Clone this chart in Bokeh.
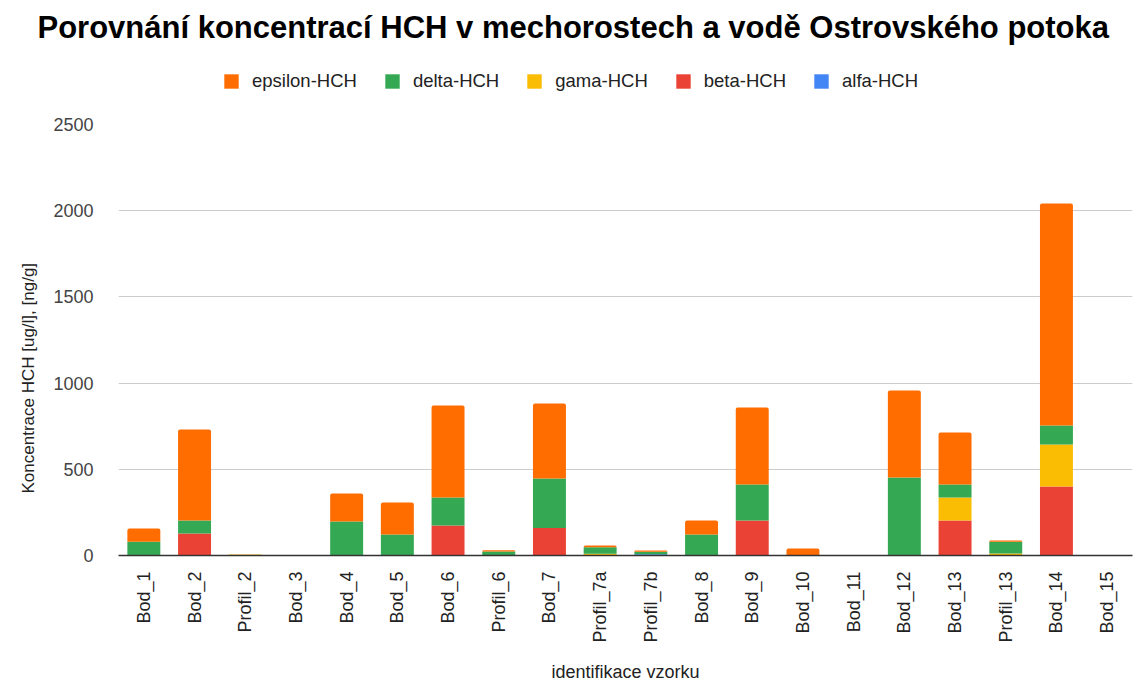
import math
import numpy as np
from bokeh.plotting import figure
from bokeh.layouts import column
from bokeh.models import (FactorRange, Range1d, Legend, LegendItem, ColumnDataSource,
                          FixedTicker, Title)
from bokeh.embed import file_html
from bokeh.resources import INLINE

categories = ["Bod_1", "Bod_2", "Profil_2", "Bod_3", "Bod_4", "Bod_5", "Bod_6", "Profil_6", "Bod_7",
              "Profil_7a", "Profil_7b", "Bod_8", "Bod_9", "Bod_10", "Bod_11", "Bod_12", "Bod_13",
              "Profil_13", "Bod_14", "Bod_15"]
alfa = [0, 0, 0, 0, 0, 0, 0, 3, 0, 2, 7, 0, 0, 0, 0, 0, 0, 2, 0, 0]
beta = [0, 128, 0, 0, 0, 0, 174, 0, 160, 0, 0, 0, 203, 0, 0, 0, 203, 0, 400, 0]
gama = [0, 0, 6, 0, 0, 0, 0, 0, 0, 8, 0, 0, 0, 0, 0, 0, 133, 10, 244, 0]
delta = [80, 75, 0, 0, 197, 122, 162, 20, 287, 38, 15, 122, 209, 0, 0, 452, 76, 68, 110, 0]
epsilon = [77, 528, 0, 0, 163, 185, 534, 8, 435, 10, 7, 81, 446, 40, 0, 505, 301, 7, 1288, 0]
y_ticks = [0, 500, 1000, 1500, 2000, 2500]

series_values = [alfa, beta, gama, delta, epsilon]
labels = ["alfa-HCH", "beta-HCH", "gama-HCH", "delta-HCH", "epsilon-HCH"]
colors = ["#4285F4", "#EA4335", "#FBBC04", "#34A853", "#FF6D01"]

TITLE = "Porovnání koncentrací HCH v mechorostech a vodě Ostrovského potoka"
Y_LABEL = "Koncentrace HCH [ug/l], [ng/g]"
X_LABEL = "identifikace vzorku"

FONT = "Liberation Sans"
W = 1139
HEADER_H = 100

# ---------- header: title + legend ----------
header = figure(width=W, height=HEADER_H, x_range=Range1d(0, 1), y_range=Range1d(0, 1),
                output_backend="svg", toolbar_location=None,
                x_axis_location=None, y_axis_location=None,
                min_border_left=118, min_border_right=7, min_border_top=48, min_border_bottom=0,
                title=TITLE)
header.grid.visible = False
header.outline_line_color = None
header.title.align = "left"
header.title.offset = -81
header.title.standoff = 7
header.title.text_font = FONT
header.title.text_font_size = "31px"
header.title.text_font_style = "bold"
header.title.text_color = "#000000"

# zero-height placeholder glyphs (outside the visible range) that only carry legend swatches
legend_renderers = []
for c in colors:
    r = header.vbar(x=[-10], bottom=[0], top=[0], width=0.1, fill_color=c, line_color=None)
    legend_renderers.append(r)
items = [LegendItem(label=l, renderers=[r]) for l, r in zip(labels, legend_renderers)][::-1]
legend = Legend(items=items, orientation="horizontal", location=(104, 8),
                label_text_font=FONT, label_text_font_size="18.5px", label_text_color="#222222",
                glyph_width=18, glyph_height=18, spacing=26, label_standoff=12,
                border_line_color=None, background_fill_alpha=0, padding=4, margin=0)
header.add_layout(legend, "center")

# ---------- main chart ----------
p = figure(x_range=FactorRange(*categories), y_range=Range1d(0, 2500),
           width=W, height=684 - HEADER_H, output_backend="svg", toolbar_location=None,
           min_border_left=118, min_border_right=7, min_border_top=24, min_border_bottom=129)

cum = np.zeros(len(categories))
for vals_list, c, lab in zip(series_values, colors, labels):
    vals = np.array(vals_list, dtype=float)
    src = ColumnDataSource(data=dict(cat=categories, bottom=cum.copy(), top=cum + vals))
    kw = {}
    if lab == "epsilon-HCH":
        kw["border_radius"] = (2, 2, 0, 0)
    p.vbar(x="cat", bottom="bottom", top="top", width=0.65, source=src,
           fill_color=c, line_color=None, **kw)
    cum = cum + vals

p.outline_line_color = None
p.xgrid.grid_line_color = None
p.ygrid.grid_line_color = "#cccccc"
p.ygrid.ticker = FixedTicker(ticks=y_ticks)

p.yaxis.ticker = FixedTicker(ticks=y_ticks)
p.yaxis.axis_line_color = None
p.yaxis.major_tick_line_color = None
p.yaxis.minor_tick_line_color = None
p.yaxis.major_label_text_font = FONT
p.yaxis.major_label_text_font_size = "18px"
p.yaxis.major_label_text_color = "#444444"
p.yaxis.major_label_standoff = 19

# y-axis title as a side title so it can be shifted along the axis like the reference
ytitle = Title(text=Y_LABEL, align="left", offset=62, standoff=26,
               text_font=FONT, text_font_size="17px", text_font_style="normal",
               text_color="#222222")
p.add_layout(ytitle, "left")

p.xaxis.axis_line_color = "#333333"
p.xaxis.axis_line_width = 1.5
p.xaxis.major_tick_line_color = None
p.xaxis.minor_tick_line_color = None
p.xaxis.major_label_orientation = math.pi / 2
p.xaxis.major_label_text_font = FONT
p.xaxis.major_label_text_font_size = "18px"
p.xaxis.major_label_text_color = "#222222"
p.xaxis.major_label_standoff = 10
p.xaxis.axis_label = X_LABEL
p.xaxis.axis_label_text_font = FONT
p.xaxis.axis_label_text_font_size = "18px"
p.xaxis.axis_label_text_font_style = "normal"
p.xaxis.axis_label_text_color = "#222222"
p.xaxis.axis_label_standoff = 16

layout = column(header, p, spacing=0)
open("out.html", "w").write(file_html(layout, INLINE))
